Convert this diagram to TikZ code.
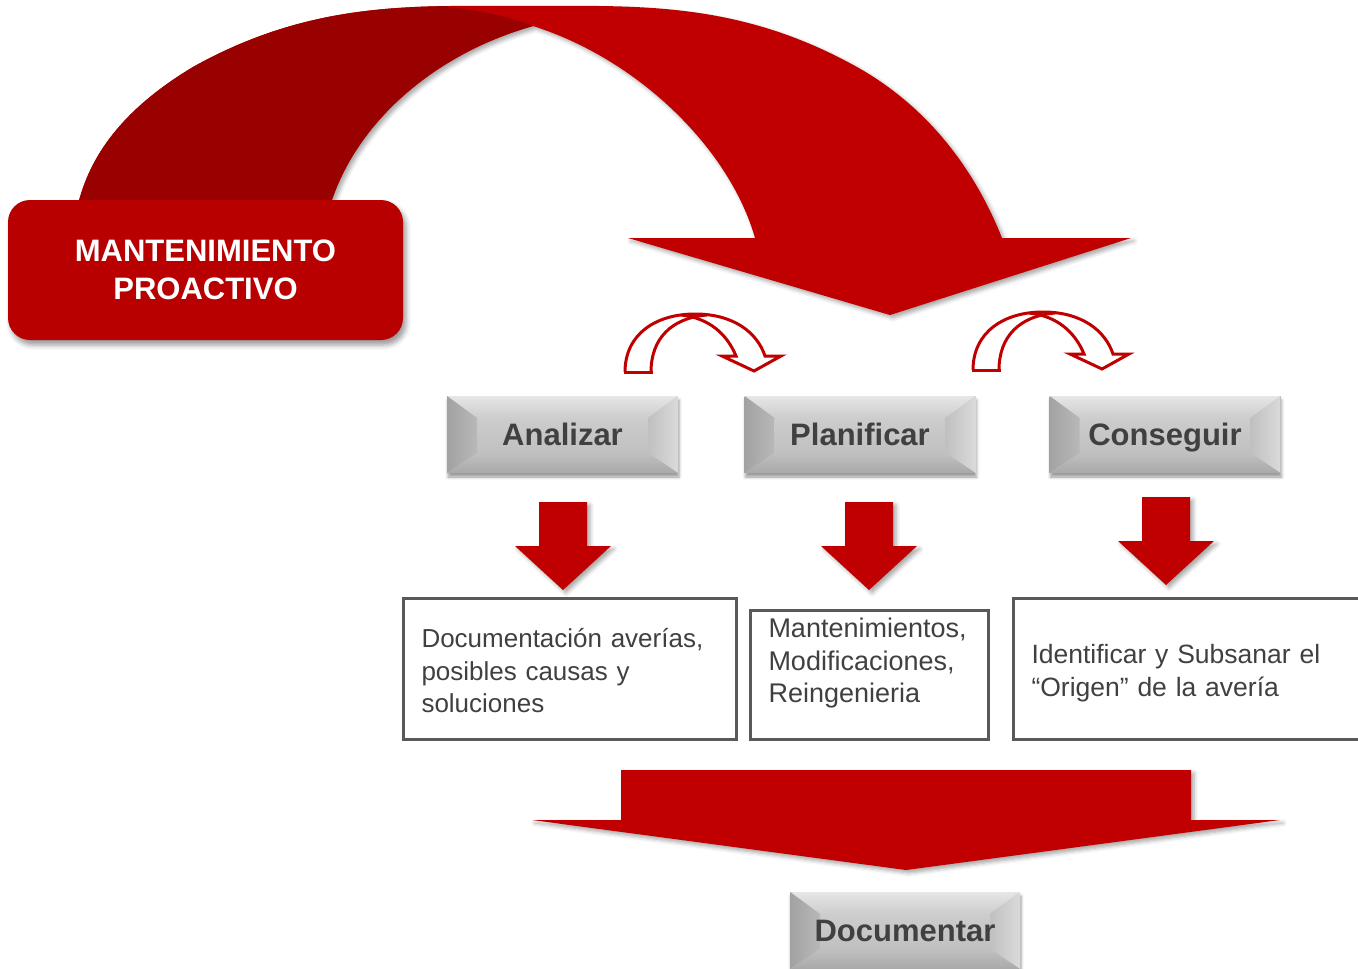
\documentclass[tikz,border=0pt]{standalone}
\usepackage{fontspec}
\setmainfont{Liberation Sans}
\usetikzlibrary{shadows.blur}

\definecolor{arrowred}{HTML}{C00000}
\definecolor{backred}{HTML}{990000}
\definecolor{boxred}{HTML}{B80000}
\definecolor{labelgray}{HTML}{404040}
\definecolor{framegray}{HTML}{595959}
\definecolor{btnface}{HTML}{C0C0C0}
\definecolor{btnlight}{HTML}{E6E6E6}
\definecolor{btndark}{HTML}{A2A2A2}
\definecolor{btnright}{HTML}{DADADA}

\tikzset{
  softshadow/.style={blur shadow={shadow xshift=3pt, shadow yshift=-3pt,
      shadow blur radius=4pt, shadow opacity=35}},
  titlebox/.style={fill=boxred, rounded corners=22pt, minimum width=395pt,
      minimum height=140pt, inner sep=0pt, align=center, text=white,
      font=\fontsize{31}{38}\selectfont\bfseries,
      blur shadow={shadow xshift=3pt, shadow yshift=-5pt,
      shadow blur radius=5pt, shadow opacity=40}},
  bevelbtn/.style={minimum width=231pt, minimum height=77pt, inner sep=0pt,
      fill=btnface, text=labelgray, font=\fontsize{31}{37}\selectfont\bfseries,
      text height=22pt, text depth=0pt,
      blur shadow={shadow xshift=1pt, shadow yshift=-4pt,
      shadow blur radius=3pt, shadow opacity=40},
      path picture={
        \coordinate (pnw) at (path picture bounding box.north west);
        \coordinate (pne) at (path picture bounding box.north east);
        \coordinate (psw) at (path picture bounding box.south west);
        \coordinate (pse) at (path picture bounding box.south east);
        \coordinate (qnw) at ([shift={(30pt,-22pt)}]pnw);
        \coordinate (qne) at ([shift={(-30pt,-22pt)}]pne);
        \coordinate (qsw) at ([shift={(30pt,20pt)}]psw);
        \coordinate (qse) at ([shift={(-30pt,20pt)}]pse);
        \shade[top color=btnface!80!white, bottom color=btnface]
          (qnw) -- (qne) -- (qse) -- (qsw) -- cycle;
        \shade[top color=btnlight, bottom color=btnface!80!white]
          (pnw) -- (pne) -- (qne) -- (qnw) -- cycle;
        \shade[left color=btndark, right color=btnface!96!black]
          (pnw) -- (qnw) -- (qsw) -- (psw) -- cycle;
        \shade[left color=btnface, right color=btnright]
          (pne) -- (qne) -- (qse) -- (pse) -- cycle;
        \shade[top color=btnface, bottom color=btnface!88!black]
          (psw) -- (qsw) -- (qse) -- (pse) -- cycle;
      }},
  notebox/.style={draw=framegray, line width=3pt, align=left,
      inner xsep=18pt, inner ysep=0pt, text=labelgray, anchor=north west,
      text height=22.4pt},
  turnarrow/.pic={
    \draw[arrowred, line width=3pt, line join=miter]
      (0,0) .. controls (0,-38) and (31,-58) .. (70,-58)
            .. controls (108,-58) and (132,-40) .. (140,-16)
      -- (156,-16) -- (129,-1) -- (97,-16) -- (111,-16)
            .. controls (102,-38) and (84,-54) .. (56,-57);
    \draw[arrowred, line width=3pt]
      (26,0) .. controls (26,-33) and (46,-54) .. (82,-57);
    \draw[arrowred, line width=3pt, line cap=rect] (0,0) -- (26,0);
  },
  downblock/.pic={
    \fill[arrowred, softshadow] (-24,0) -- (24,0) -- (24,44) -- (48,44)
      -- (0,88) -- (-48,44) -- (-24,44) -- cycle;
  }
}

\begin{document}
\begin{tikzpicture}[x=1pt, y=-1pt]
\useasboundingbox (0,0) rectangle (1358,969);

% large curved arrow: whole ribbon with its head
\fill[arrowred, softshadow]
  (74,225) .. controls (82,168) and (113,115) .. (193,67)
  .. controls (313,0) and (415,6) .. (525,6)
  .. controls (635,6) and (737,0) .. (857,67)
  .. controls (932,109) and (977,175) .. (1002,238)
  -- (1131,238) -- (890,315) -- (628,238) -- (755,238)
  .. controls (730,150) and (640,60) .. (533,26)
  .. controls (430,55) and (345,130) .. (325,225)
  -- cycle;

% darker back face of the rising leg
\begin{scope}
  \clip (0,-10) -- (447,-10) -- (447,7) .. controls (480,10) and (510,17) .. (533,26)
    -- (533,300) -- (0,300) -- cycle;
  \fill[backred]
    (74,225) .. controls (82,168) and (113,115) .. (193,67)
    .. controls (313,0) and (415,6) .. (525,6)
    -- (536,26)
    -- (533,26) .. controls (430,55) and (345,130) .. (325,225)
    -- cycle;
\end{scope}

% title box
\node[titlebox] (title) at (205.5,270) {MANTENIMIENTO\\PROACTIVO};

% outlined turn arrows between the steps
\pic at (625,372) {turnarrow};
\pic at (973,370) {turnarrow};

% step buttons
\node[bevelbtn] (analizar) at (562.5,434.5) {Analizar};
\node[bevelbtn] (planificar) at (860,434.5) {Planificar};
\node[bevelbtn] (conseguir) at (1165,434.5) {Conseguir};

% arrows down to the descriptions
\pic at (563,502) {downblock};
\pic at (869,502) {downblock};
\pic at (1166,497) {downblock};

% descriptions
\node[notebox, font=\fontsize{26}{32.5}\selectfont, minimum width=333pt,
  minimum height=141pt, text width=297pt, text depth=65.4pt]
  (nota1) at (402,597) {Documentación averías,\\posibles causas y\\soluciones};
\node[notebox, font=\fontsize{27}{32.5}\selectfont, minimum width=238pt,
  minimum height=129pt, text width=202pt, text depth=97.4pt]
  (nota2) at (749,609) {Mantenimientos,\\Modificaciones,\\Reingenieria};
\node[notebox, font=\fontsize{26.5}{32.5}\selectfont, minimum width=350pt,
  minimum height=141pt, text width=314pt, text depth=33.4pt]
  (nota3) at (1012,597) {Identificar y Subsanar el\\“Origen” de la avería};

% wide arrow to the final step
\fill[arrowred, softshadow] (621,770) -- (1191,770) -- (1191,820) -- (1280,820)
  -- (906,870) -- (532,820) -- (621,820) -- cycle;

\node[bevelbtn, minimum width=230pt] (documentar) at (905,930.5) {Documentar};
\end{tikzpicture}
\end{document}
